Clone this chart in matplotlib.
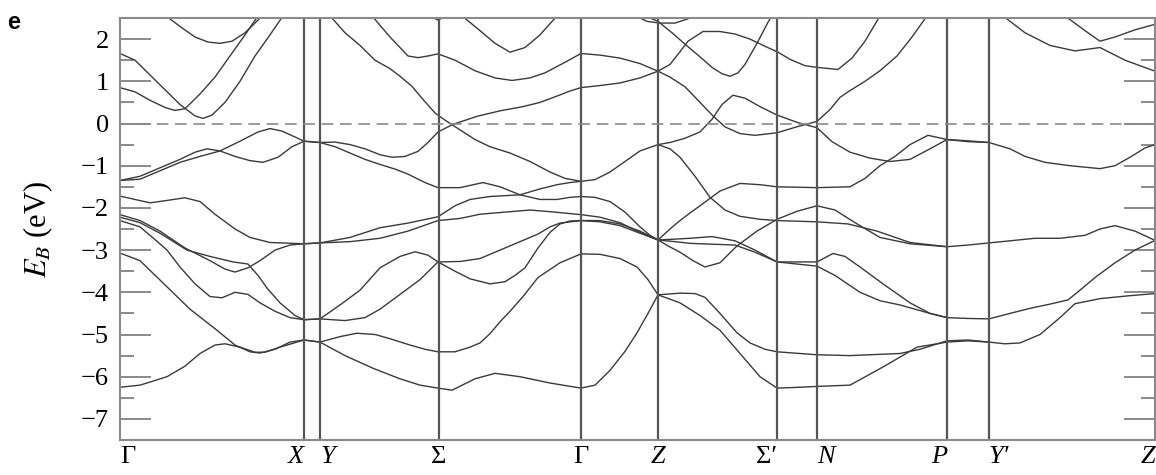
import numpy as np
import matplotlib
matplotlib.use("Agg")
import matplotlib.pyplot as plt
from matplotlib.ticker import MultipleLocator

plt.rcParams['font.family'] = ['Liberation Serif', 'DejaVu Serif']
plt.rcParams['mathtext.fontset'] = 'stix'

# high-symmetry points along the k-path (path distance, arbitrary units)
kpoints = [120, 304, 320, 439, 581, 658, 777, 817, 947, 989, 1155]
klabels = ['Γ', 'X', 'Y', 'Σ', 'Γ', 'Z', 'Σ′', 'N', 'P', 'Y′', 'Z']
kitalic = [False, True, True, False, False, True, False, True, True, True, True]

# bands: (k, E) pairs
band_a = [(120, 1.66), (135, 1.5), (150, 1.15), (165, 0.8), (180, 0.45), (195, 0.18), (203, 0.12),
          (212, 0.2), (225, 0.5), (240, 1.0), (255, 1.6), (270, 2.1), (283, 2.55)]
band_b = [(120, 0.85), (135, 0.75), (150, 0.55), (165, 0.38), (175, 0.31), (185, 0.35), (200, 0.7),
          (215, 1.1), (230, 1.6), (245, 2.1), (258, 2.55)]
band_c = [(166, 2.55), (180, 2.3), (195, 2.05), (208, 1.93), (220, 1.9), (232, 1.95), (245, 2.15),
          (258, 2.45), (262, 2.55)]
band_k = [(120, -1.35), (140, -1.32), (160, -1.12), (180, -0.92), (200, -0.78), (220, -0.65), (240, -0.42),
          (258, -0.2), (270, -0.12), (282, -0.18), (295, -0.32), (304, -0.42), (320, -0.45),
          (335, -0.44), (350, -0.5), (365, -0.6), (380, -0.74), (392, -0.8), (405, -0.78), (418, -0.66),
          (428, -0.45), (438, -0.2), (453, -0.02), (477, 0.17), (500, 0.3), (523, 0.4), (540, 0.5),
          (557, 0.65), (570, 0.77), (581, 0.85), (600, 0.9), (620, 0.96), (640, 1.08), (658, 1.24),
          (670, 1.1), (685, 0.87), (700, 0.5), (713, 0.18), (725, -0.08), (740, -0.24), (755, -0.28),
          (777, -0.22), (798, -0.07), (817, 0.05), (830, 0.33), (840, 0.62), (850, 0.78), (865, 1.0),
          (880, 1.25), (897, 1.6), (912, 2.05), (927, 2.55)]
band_i = [(120, -1.35), (140, -1.25), (160, -1.05), (180, -0.85), (195, -0.68), (207, -0.6), (220, -0.65),
          (235, -0.78), (250, -0.88), (263, -0.92), (278, -0.8), (292, -0.55), (304, -0.42), (320, -0.45),
          (335, -0.55), (350, -0.7), (365, -0.85), (380, -0.97), (395, -1.08), (408, -1.2), (425, -1.4),
          (438, -1.52), (460, -1.52), (483, -1.4), (500, -1.5), (520, -1.69), (540, -1.8), (557, -1.8),
          (570, -1.75), (581, -1.73), (595, -1.75), (610, -1.85), (625, -2.1), (640, -2.45), (650, -2.65),
          (658, -2.76), (670, -2.5), (680, -2.3), (690, -2.12), (700, -1.95), (720, -1.6), (740, -1.42),
          (760, -1.45), (777, -1.5), (817, -1.52), (850, -1.5), (865, -1.3), (880, -1.0), (895, -0.78),
          (910, -0.5), (928, -0.28), (947, -0.38), (968, -0.41), (989, -0.45), (1010, -0.6),
          (1025, -0.78), (1045, -0.92), (1070, -1.0), (1100, -1.07), (1115, -1.0), (1130, -0.8),
          (1145, -0.58), (1155, -0.5)]
band_m = [(330, 2.55), (345, 2.15), (360, 1.85), (375, 1.5), (390, 1.3), (400, 1.12), (412, 0.88),
          (423, 0.57), (435, 0.25), (445, 0.08), (460, -0.15), (475, -0.38), (490, -0.55), (510, -0.7),
          (530, -0.9), (550, -1.15), (565, -1.3), (581, -1.37), (595, -1.33), (610, -1.15), (625, -0.9),
          (640, -0.65), (658, -0.5), (670, -0.45), (685, -0.35), (700, -0.2), (712, 0.1), (722, 0.45),
          (733, 0.67), (745, 0.6), (760, 0.4), (777, 0.2), (798, 0.02), (817, -0.1), (832, -0.43),
          (850, -0.68), (870, -0.82), (890, -0.9), (910, -0.85), (930, -0.6), (947, -0.38), (968, -0.43),
          (989, -0.45)]
band_j = [(372, 2.55), (390, 2.05), (408, 1.6), (418, 1.56), (428, 1.6), (438, 1.65), (455, 1.5),
          (475, 1.25), (495, 1.08), (512, 1.02), (530, 1.08), (545, 1.2), (565, 1.45), (581, 1.66),
          (600, 1.62), (620, 1.55), (640, 1.42), (658, 1.24), (670, 1.4), (680, 1.7), (688, 1.95),
          (703, 2.18), (720, 2.18), (735, 2.12), (750, 2.0), (765, 1.83), (778, 1.69), (790, 1.52),
          (805, 1.37), (817, 1.33), (838, 1.28), (852, 1.55), (865, 1.95), (880, 2.55)]
band_g = [(462, 2.55), (480, 2.2), (495, 1.9), (510, 1.69), (525, 1.8), (540, 2.1), (557, 2.55)]
band_l = [(645, 2.55), (658, 2.42), (672, 2.15), (685, 1.88), (700, 1.58), (712, 1.33), (722, 1.18),
          (730, 1.12), (738, 1.2), (745, 1.4), (757, 1.9), (768, 2.4), (772, 2.55)]
arc_z = [(636, 2.55), (647, 2.42), (660, 2.38), (675, 2.38), (688, 2.48), (692, 2.55)]
arc_s = [(430, 2.55), (438, 2.45), (446, 2.55)]
band_ii = [(120, -1.72), (135, -1.8), (150, -1.88), (165, -1.83), (185, -1.76), (200, -1.85), (215, -2.15),
           (235, -2.5), (250, -2.7), (270, -2.82), (304, -2.85), (320, -2.83), (350, -2.7), (380, -2.47),
           (408, -2.36), (438, -2.21), (455, -1.95), (470, -1.8), (490, -1.73), (520, -1.69),
           (540, -1.55), (557, -1.45), (570, -1.4), (581, -1.37)]
band_iii = [(120, -2.16), (140, -2.3), (160, -2.55), (185, -2.95), (210, -3.25), (225, -3.45), (235, -3.52),
            (248, -3.42), (260, -3.25), (275, -3.0), (290, -2.88), (304, -2.85), (320, -2.83), (350, -2.8),
            (380, -2.72), (408, -2.55), (438, -2.3), (460, -2.25), (480, -2.15), (505, -2.1), (530, -2.05),
            (555, -2.1), (581, -2.16), (600, -2.22), (620, -2.35), (640, -2.58), (658, -2.76),
            (675, -2.74), (690, -2.72), (712, -2.68), (735, -2.78), (755, -3.0), (777, -3.28),
            (797, -3.28), (817, -3.28), (833, -3.08), (845, -3.15), (860, -3.4), (883, -3.8),
            (910, -4.25), (930, -4.5), (947, -4.6), (968, -4.62), (989, -4.63), (1010, -4.5),
            (1030, -4.38), (1050, -4.28), (1068, -4.18), (1080, -3.95), (1095, -3.65), (1115, -3.3),
            (1135, -3.0), (1155, -2.77)]
band_iv = [(120, -2.22), (140, -2.35), (160, -2.6), (187, -3.0), (210, -3.15), (233, -3.28), (248, -3.33),
           (258, -3.6), (267, -3.9), (280, -4.25), (295, -4.55), (304, -4.65), (320, -4.63), (340, -4.3),
           (360, -3.95), (380, -3.42), (400, -3.15), (415, -3.04), (428, -3.12), (438, -3.28),
           (460, -3.27), (480, -3.2), (500, -3.0), (510, -2.9), (525, -2.75), (538, -2.62), (550, -2.45),
           (560, -2.36), (581, -2.3), (600, -2.33), (620, -2.42), (640, -2.6), (658, -2.76),
           (668, -2.9), (680, -3.05), (693, -3.25), (705, -3.4), (720, -3.3), (737, -2.9), (757, -2.55),
           (777, -2.27), (797, -2.08), (817, -1.95), (835, -2.05), (855, -2.35), (880, -2.7),
           (910, -2.85), (947, -2.92), (968, -2.88), (989, -2.83), (1010, -2.78), (1035, -2.72),
           (1060, -2.72), (1085, -2.65), (1100, -2.5), (1115, -2.42), (1135, -2.55), (1155, -2.77)]
band_v = [(120, -2.3), (140, -2.45), (155, -2.75), (167, -3.0), (180, -3.4), (195, -3.8), (210, -4.1),
          (222, -4.13), (235, -4.0), (248, -4.05), (260, -4.25), (275, -4.45), (290, -4.6), (304, -4.65),
          (320, -4.63), (345, -4.67), (365, -4.6), (380, -4.4), (400, -4.05), (420, -3.7), (438, -3.28),
          (455, -3.5), (470, -3.68), (490, -3.8), (505, -3.75), (515, -3.6), (525, -3.42), (538, -2.95),
          (550, -2.58), (560, -2.38), (570, -2.31), (581, -2.3), (600, -2.3), (620, -2.38), (640, -2.55),
          (658, -2.76), (675, -2.8), (690, -2.84), (712, -2.86), (735, -2.88), (755, -3.05),
          (777, -3.28), (797, -3.33), (817, -3.38), (835, -3.6), (860, -4.0), (880, -4.2), (900, -4.3),
          (930, -4.5), (947, -4.6)]
band_o = [(658, -0.5), (670, -0.6), (680, -0.8), (695, -1.25), (710, -1.75), (725, -2.05), (740, -2.2),
          (760, -2.27), (777, -2.3), (817, -2.33), (848, -2.38), (877, -2.55), (910, -2.82), (947, -2.92)]
band_vi = [(120, -3.07), (140, -3.25), (167, -3.87), (190, -4.4), (217, -4.9), (235, -5.25), (250, -5.41),
           (260, -5.44), (275, -5.35), (290, -5.18), (304, -5.13), (320, -5.18), (340, -5.05),
           (357, -4.97), (375, -5.0), (390, -5.1), (410, -5.25), (425, -5.35), (438, -5.41),
           (455, -5.41), (470, -5.3), (480, -5.2), (490, -4.98), (500, -4.7), (510, -4.45), (523, -4.1),
           (538, -3.65), (560, -3.3), (581, -3.09), (600, -3.1), (620, -3.2), (637, -3.4), (648, -3.7),
           (658, -4.06), (680, -4.02), (695, -4.03), (705, -4.12), (720, -4.5), (737, -4.96),
           (750, -5.2), (765, -5.35), (777, -5.41), (817, -5.48), (850, -5.5), (880, -5.47),
           (900, -5.45), (920, -5.35), (947, -5.15), (968, -5.13), (989, -5.18), (1005, -5.22),
           (1020, -5.2), (1040, -5.0), (1060, -4.6), (1075, -4.27), (1100, -4.15), (1130, -4.08),
           (1155, -4.03)]
band_vii = [(120, -6.25), (140, -6.2), (167, -6.0), (185, -5.75), (200, -5.45), (215, -5.25), (225, -5.22),
            (240, -5.3), (255, -5.42), (265, -5.42), (280, -5.3), (304, -5.13), (320, -5.18), (345, -5.5),
            (373, -5.8), (400, -6.05), (420, -6.2), (438, -6.27), (452, -6.32), (475, -6.05),
            (495, -5.92), (520, -6.0), (550, -6.15), (581, -6.27), (595, -6.2), (610, -5.85),
            (625, -5.4), (637, -4.96), (648, -4.5), (658, -4.06), (680, -4.25), (700, -4.55),
            (720, -4.9), (740, -5.45), (760, -6.0), (777, -6.27), (800, -6.25), (817, -6.23),
            (850, -6.2), (883, -5.77), (917, -5.3), (947, -5.18), (968, -5.15), (989, -5.18)]
band_s1 = [(1003, 2.55), (1025, 2.15), (1050, 1.85), (1075, 1.72), (1100, 1.8), (1125, 1.5), (1155, 1.24)]
band_s2 = [(1065, 2.55), (1085, 2.2), (1100, 1.95), (1115, 2.05), (1135, 2.22), (1155, 2.35)]

bands = [band_a, band_b, band_c, band_k, band_i, band_m, band_j, band_g, band_l, arc_z, arc_s,
         band_ii, band_iii, band_iv, band_v, band_o, band_vi, band_vii, band_s1, band_s2]

fig = plt.figure(figsize=(11.56, 4.75), dpi=100)
ax = fig.add_axes([120 / 1156, 35 / 475, 1035 / 1156, 422 / 475])

for b in bands:
    k, e = zip(*b)
    ax.plot(k, e, color='#3a3a3a', lw=1.0, solid_joinstyle='round', solid_capstyle='round')

for kp in kpoints[1:-1]:
    ax.axvline(kp, color='#555555', lw=1.6)

ax.axhline(0, color='#8a8a8a', lw=1.2, dashes=(7, 4))

ax.set_xlim(kpoints[0], kpoints[-1])
ax.set_ylim(-7.5, 2.5)
ax.set_xticks(kpoints)
ax.set_xticklabels(klabels, fontsize=19)
for lab, it in zip(ax.get_xticklabels(), kitalic):
    if it:
        lab.set_fontstyle('italic')
# spread the close pairs apart a little, as in the figure
labs = ax.get_xticklabels()
for idx in (1, 6, 8, 10):
    labs[idx].set_ha('right')
for idx in (0, 2, 7, 9):
    labs[idx].set_ha('left')
ax.tick_params(axis='x', length=0, pad=4)

ax.yaxis.set_major_locator(MultipleLocator(1))
ax.yaxis.set_minor_locator(MultipleLocator(0.5))
ax.tick_params(axis='y', which='major', direction='in', length=22, width=1.2, color='#777777',
               right=True, labelsize=19, pad=8)
ax.tick_params(axis='y', which='minor', direction='in', length=10, width=1.2, color='#777777', right=True)
for s in ax.spines.values():
    s.set_color('#8a8a8a')
    s.set_linewidth(1.5)

ax.set_ylabel(r'$E_B$ (eV)', fontsize=22)
ax.yaxis.set_label_coords(-65 / 1035, 0.5)
fig.text(0.006, 0.952, 'e', fontsize=17, fontweight='bold', family='Liberation Sans', va='center')

fig.savefig('out.png', dpi=100)
